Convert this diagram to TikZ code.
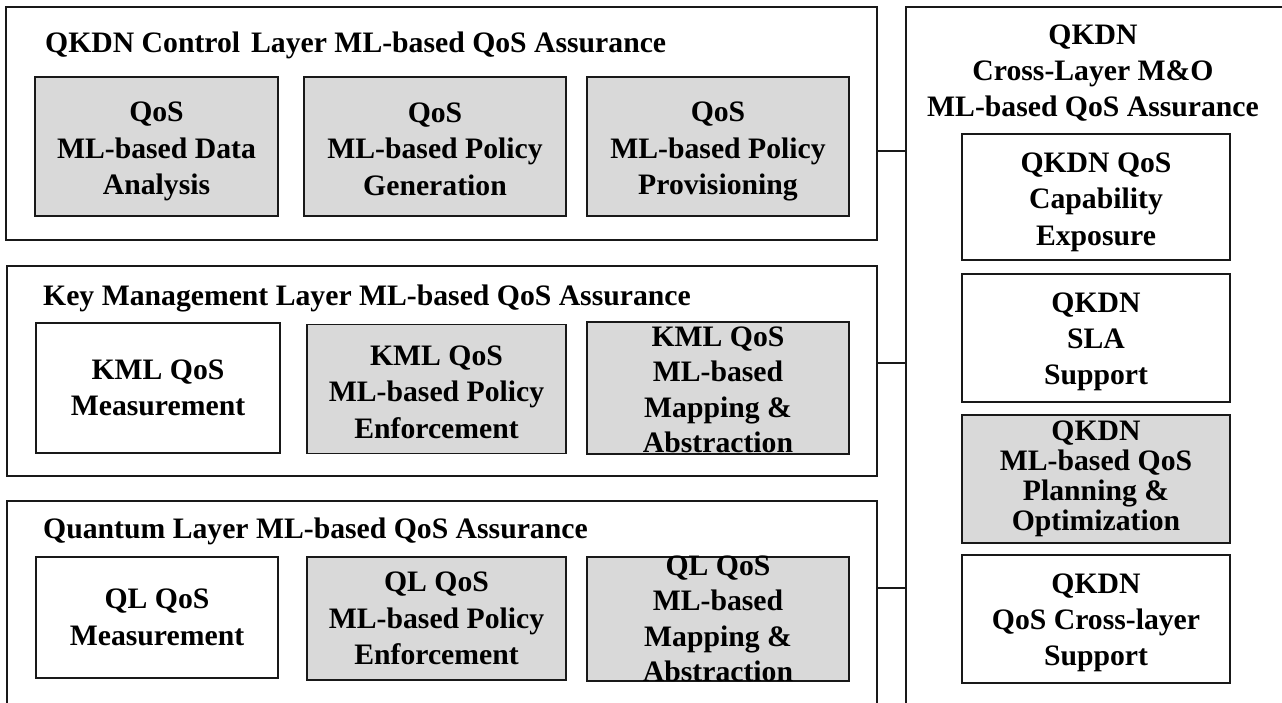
\documentclass[tikz,border=0pt]{standalone}
\usepackage{fontspec}
\setmainfont{Liberation Serif}
\begin{document}
\begin{tikzpicture}[x=1pt,y=-1pt,
  lw/.style={line width=1.6pt, draw=black!90},
  layerbox/.style={lw, rectangle, inner sep=0pt, fill=white},
  wbox/.style={lw, rectangle, inner sep=0pt, fill=white},
  gbox/.style={wbox, fill=gray!30},
  lbl/.style={inner sep=0pt, align=center, font=\fontsize{29.7}{36.5}\selectfont\bfseries},
  ttl/.style={inner sep=0pt, anchor=base west, font=\fontsize{29.7}{36.5}\selectfont\bfseries},
  conn/.style={lw}]
\useasboundingbox (0,0) rectangle (1282,702);
% layer boxes
\node[layerbox, minimum width=871, minimum height=233] (ctrl) at (441.5,123.5) {};
\node[layerbox, minimum width=870, minimum height=210] (km) at (442,371) {};
\node[layerbox, minimum width=870, minimum height=219] (ql) at (442,610.5) {};
\node[layerbox, minimum width=394, minimum height=713] (xl) at (1103,363.5) {};
% titles
\node[ttl] (ctrlT) at (45,52) {QKDN Control\hspace{11pt}Layer ML-based QoS Assurance};
\node[ttl] (kmT) at (43,305) {Key Management Layer ML-based QoS Assurance};
\node[ttl] (qlT) at (43,538) {Quantum Layer ML-based QoS Assurance};
\node[lbl, font=\fontsize{29.7}{36}\selectfont\bfseries] (xlT) at (1093,73.5)
  {QKDN\\Cross-Layer M\&O\\ML-based QoS Assurance};
% control layer
\node[gbox, minimum width=243, minimum height=139] (c1) at (156.5,146.5) {};
\node[gbox, minimum width=262, minimum height=139] (c2) at (435,146.5) {};
\node[gbox, minimum width=262, minimum height=139] (c3) at (718,146.5) {};
\node[lbl, yshift=-5pt] (c1t) at (c1.center) {QoS\\ML-based Data\\Analysis};
\node[lbl, yshift=-2.5pt] (c2t) at (c2.center) {QoS\\ML-based Policy\\Generation};
\node[lbl, yshift=-5pt] (c3t) at (c3.center) {QoS\\ML-based Policy\\Provisioning};
% key management layer
\node[wbox, minimum width=244, minimum height=130] (k1) at (158,388) {};
\node[gbox, minimum width=259, minimum height=129] (k2) at (436.5,389) {};
\node[gbox, minimum width=262, minimum height=132] (k3) at (718,388) {};
\node[lbl] (k1t) at (k1.center) {KML QoS\\Measurement};
\node[lbl, yshift=-3pt] (k2t) at (k2.center) {KML QoS\\ML-based Policy\\Enforcement};
\node[lbl, yshift=-2pt, font=\fontsize{29.7}{35.5}\selectfont\bfseries] (k3t) at (k3.center) {KML QoS\\ML-based\\Mapping \&\\Abstraction};
% quantum layer
\node[wbox, minimum width=242, minimum height=121] (q1) at (157,617.5) {};
\node[gbox, minimum width=259, minimum height=123] (q2) at (436.5,618.5) {};
\node[gbox, minimum width=262, minimum height=124] (q3) at (718,619) {};
\node[lbl] (q1t) at (q1.center) {QL QoS\\Measurement};
\node[lbl] (q2t) at (q2.center) {QL QoS\\ML-based Policy\\Enforcement};
\node[lbl, font=\fontsize{29.7}{35.5}\selectfont\bfseries] (q3t) at (q3.center) {QL QoS\\ML-based\\Mapping \&\\Abstraction};
% cross layer
\node[wbox, minimum width=268, minimum height=126] (rA) at (1096,197) {};
\node[wbox, minimum width=268, minimum height=128] (rB) at (1096,338) {};
\node[gbox, minimum width=268, minimum height=128] (rC) at (1096,479) {};
\node[wbox, minimum width=268, minimum height=128] (rD) at (1096,619) {};
\node[lbl, yshift=-5pt] (rAt) at (rA.center) {QKDN QoS\\Capability\\Exposure};
\node[lbl, yshift=-4pt, font=\fontsize{29.7}{36}\selectfont\bfseries] (rBt) at (rB.center) {QKDN\\SLA\\Support};
\node[lbl, font=\fontsize{29.7}{30}\selectfont\bfseries] (rCt) at (rC.center) {QKDN\\ML-based QoS\\Planning \&\\Optimization};
\node[lbl, yshift=-4pt, font=\fontsize{29.7}{36}\selectfont\bfseries] (rDt) at (rD.center) {QKDN\\QoS Cross-layer\\Support};
% connectors
\path (ctrl.east) ++(0,27.5) coordinate (a1);
\path (km.east) ++(0,-8) coordinate (a2);
\path (ql.east) ++(0,-22.5) coordinate (a3);
\draw[conn] (a1) -- (a1 -| xl.west);
\draw[conn] (a2) -- (a2 -| xl.west);
\draw[conn] (a3) -- (a3 -| xl.west);
\end{tikzpicture}
\end{document}
